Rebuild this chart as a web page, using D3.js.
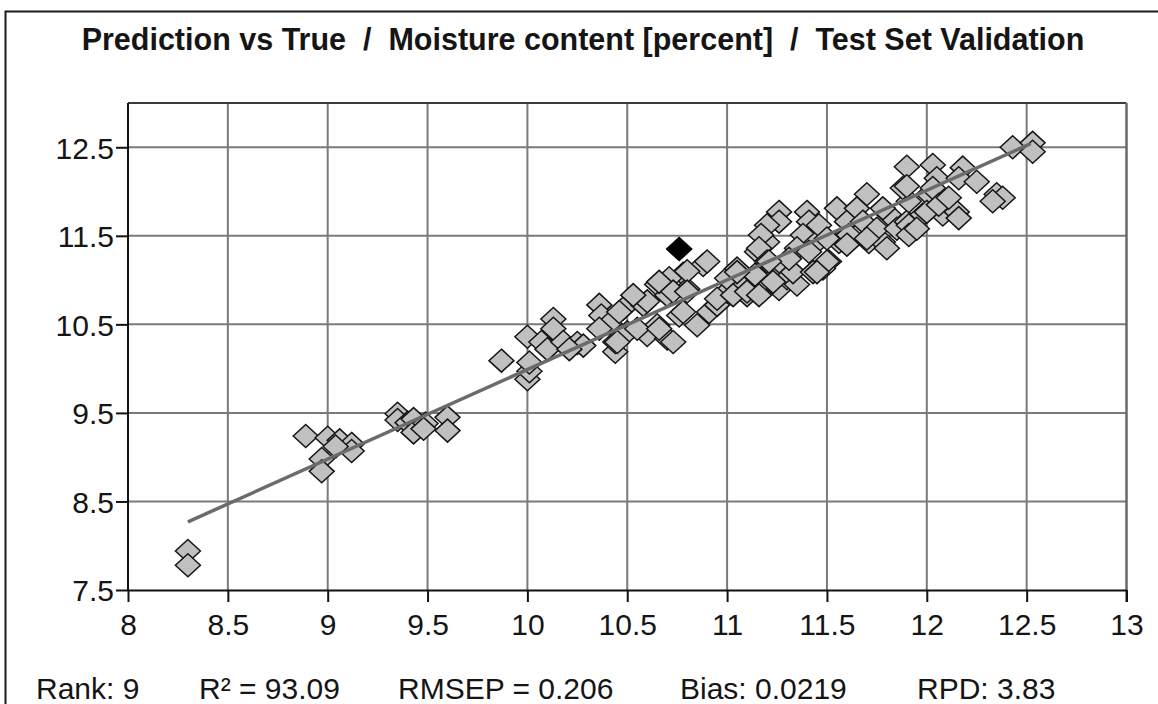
<!DOCTYPE html>
<html>
<head>
<meta charset="utf-8">
<script src="https://cdn.jsdelivr.net/npm/d3@7"></script>
<style>
  html, body { margin: 0; padding: 0; background: #fff; }
  svg { display: block; }
  text { font-family: "Liberation Sans", Arial, sans-serif; fill: #151515; }
</style>
</head>
<body>
<svg id="chart" width="1158" height="704"></svg>
<script>
// ---- chart content ----
const titleText = "Prediction vs True  /  Moisture content [percent]  /  Test Set Validation";
const xTicks = [8, 8.5, 9, 9.5, 10, 10.5, 11, 11.5, 12, 12.5, 13];
const yTicks = [7.5, 8.5, 9.5, 10.5, 11.5, 12.5];
const statLabels = ["Rank: 9", "R\u00b2 = 93.09", "RMSEP = 0.206", "Bias: 0.0219", "RPD: 3.83"];

// test-set samples: reference (true) value and predicted value
const trueValues = [
  8.30, 8.30,
  8.89, 9.00, 9.06, 9.12, 9.12, 9.04, 8.97, 8.97,
  9.35, 9.35, 9.40, 9.43, 9.43, 9.49, 9.48, 9.60, 9.60,
  9.87, 10.00, 10.00, 10.01, 10.01, 10.13, 10.13, 10.07, 10.10, 10.18, 10.25, 10.28, 10.21,
  10.36, 10.37, 10.41, 10.44, 10.44, 10.48, 10.50, 10.58, 10.60, 10.65, 10.70, 10.65,
  10.70, 10.73, 10.76, 10.78, 10.85, 10.88, 10.91, 10.95, 11.00, 11.05, 10.80, 10.71,
  10.90, 10.80, 10.66, 10.73, 10.60, 10.46, 10.36, 10.45, 10.55, 10.66, 10.78, 10.95,
  11.00, 11.05, 11.10, 11.18, 11.23, 11.15, 11.20, 11.28, 11.26, 10.80, 10.53,
  11.26, 11.26, 11.20, 11.17, 11.16, 11.20, 11.14, 11.05, 11.03, 11.10, 11.16, 11.30,
  11.35, 11.33, 11.40, 11.41, 11.38, 11.35, 11.31, 11.45, 11.51, 11.48, 11.43, 11.46,
  11.55, 11.60, 11.56, 11.61, 11.70, 11.65, 11.68, 11.71, 11.78, 11.75, 11.81, 11.85,
  11.90, 11.91, 11.98, 12.05, 11.88, 12.01, 12.08, 11.90, 11.90, 12.03, 12.05, 12.03,
  12.18, 12.16, 12.25, 12.35, 12.38, 12.33, 12.43, 12.53, 12.53, 11.78, 12.00, 12.06,
  12.15, 12.16, 12.11, 11.80, 11.91, 11.91, 11.95, 11.50, 11.60, 11.50, 11.45, 11.23,
  11.21, 11.41, 11.70
];
const predictedValues = [
  7.94, 7.78,
  9.24, 9.22, 9.19, 9.15, 9.07, 9.12, 8.98, 8.84,
  9.49, 9.42, 9.39, 9.43, 9.28, 9.38, 9.32, 9.45, 9.30,
  10.09, 10.36, 9.88, 9.97, 10.07, 10.56, 10.45, 10.30, 10.22, 10.30, 10.29, 10.26, 10.22,
  10.72, 10.60, 10.51, 10.19, 10.30, 10.68, 10.41, 10.72, 10.38, 10.95, 10.83, 10.49,
  10.34, 10.30, 10.60, 11.07, 10.49, 11.17, 10.64, 10.72, 10.87, 10.98, 10.90, 11.02,
  11.21, 11.10, 10.98, 10.87, 10.76, 10.64, 10.45, 10.30, 10.45, 10.45, 10.64, 10.79,
  11.02, 11.13, 10.83, 10.90, 11.02, 11.32, 11.43, 11.17, 10.90, 10.87, 10.83,
  11.77, 11.66, 11.62, 11.51, 11.36, 11.21, 11.06, 11.09, 10.83, 10.87, 10.83, 11.02,
  10.95, 11.09, 11.77, 11.66, 11.51, 11.36, 11.24, 11.43, 11.21, 11.13, 11.09, 11.62,
  11.81, 11.66, 11.43, 11.51, 11.97, 11.81, 11.66, 11.43, 11.43, 11.58, 11.74, 11.58,
  11.66, 11.89, 11.74, 11.89, 12.04, 11.97, 11.74, 12.28, 12.06, 12.30, 12.15, 12.04,
  12.27, 12.15, 12.11, 11.97, 11.93, 11.89, 12.50, 12.55, 12.45, 11.81, 11.77, 11.85,
  11.77, 11.70, 11.93, 11.36, 11.62, 11.51, 11.58, 11.47, 11.40, 11.21, 11.09, 10.98,
  11.21, 11.32, 11.47
];

// sample flagged by the software (drawn in black)
const flaggedTrue = [10.76];
const flaggedPredicted = [11.35];

// regression line of prediction on true value
const fitSlope = 1.012;
const fitIntercept = -0.13;
const fitRange = [8.30, 12.52];

// ---- layout ----
const plot = { left: 128, right: 1126.5, top: 103, bottom: 590 };
const footerX = [36, 199, 398, 680, 917];

const svg = d3.select("#chart");

const x = d3.scaleLinear().domain([8, 13]).range([plot.left, plot.right]);
const y = d3.scaleLinear().domain([7.5, 13]).range([plot.bottom, plot.top]);

// outer frame of the report panel
svg.append("path")
  .attr("d", "M5.5,704V11.5H1158")
  .attr("fill", "none")
  .attr("stroke", "#1a1a1a")
  .attr("stroke-width", 2);

// title
svg.append("text")
  .attr("x", 583)
  .attr("y", 49.5)
  .attr("text-anchor", "middle")
  .style("font-size", "30.5px")
  .style("font-weight", "bold")
  .style("white-space", "pre")
  .attr("xml:space", "preserve")
  .text(titleText);

// grid
const grid = svg.append("g").attr("stroke", "#7a7a7a").attr("stroke-width", 2);
grid.selectAll("line.v")
  .data(xTicks.filter(d => d > 8 && d < 13))
  .join("line")
  .attr("class", "v")
  .attr("x1", d => x(d)).attr("x2", d => x(d))
  .attr("y1", plot.top).attr("y2", plot.bottom);
grid.selectAll("line.h")
  .data(yTicks.filter(d => d > 7.5))
  .join("line")
  .attr("class", "h")
  .attr("x1", plot.left).attr("x2", plot.right)
  .attr("y1", d => y(d)).attr("y2", d => y(d));

// top and right frame of the plot area
svg.append("line")
  .attr("x1", plot.left).attr("x2", plot.right)
  .attr("y1", plot.top).attr("y2", plot.top)
  .attr("stroke", "#3a3a3a").attr("stroke-width", 2);
svg.append("line")
  .attr("x1", plot.right).attr("x2", plot.right)
  .attr("y1", plot.top).attr("y2", plot.bottom + 12)
  .attr("stroke", "#6a6a6a").attr("stroke-width", 2.5);

// axes
const fmt = d => String(d);
const xAxis = svg.append("g")
  .attr("transform", `translate(0,${plot.bottom})`)
  .call(d3.axisBottom(x).tickValues(xTicks).tickFormat(fmt).tickSize(12).tickSizeOuter(0).tickPadding(12));
const yAxis = svg.append("g")
  .attr("transform", `translate(${plot.left},0)`)
  .call(d3.axisLeft(y).tickValues(yTicks).tickFormat(fmt).tickSize(12).tickSizeOuter(0).tickPadding(2));

[xAxis, yAxis].forEach(g => {
  g.select(".domain").attr("stroke", "#111").attr("stroke-width", 2);
  g.selectAll(".tick line").attr("stroke", "#111").attr("stroke-width", 2);
  g.selectAll(".tick text")
    .attr("fill", "#151515")
    .style("font-size", "30px")
    .style("font-family", "'Liberation Sans', Arial, sans-serif");
});
yAxis.select(".domain").attr("d", `M0,${plot.bottom}V${plot.top}`);
yAxis.selectAll(".tick text").attr("dy", "0.36em");

// sample markers (diamonds)
const diamond = (hw, hh) => `M0,${-hh}L${hw},0L0,${hh}L${-hw},0Z`;
const samples = trueValues.map((t, i) => ({ t, p: predictedValues[i] }));
svg.append("g")
  .selectAll("path")
  .data(samples)
  .join("path")
  .attr("d", diamond(12.5, 11.5))
  .attr("transform", d => `translate(${x(d.t)},${y(d.p)})`)
  .attr("fill", "#c0c0c0")
  .attr("stroke", "#151515")
  .attr("stroke-width", 1.5);

svg.append("g")
  .selectAll("path")
  .data(flaggedTrue.map((t, i) => ({ t, p: flaggedPredicted[i] })))
  .join("path")
  .attr("d", diamond(12.5, 11.5))
  .attr("transform", d => `translate(${x(d.t)},${y(d.p)})`)
  .attr("fill", "#000")
  .attr("stroke", "#000")
  .attr("stroke-width", 1.5);

// regression line
svg.append("path")
  .datum(fitRange)
  .attr("d", d3.line().x(d => x(d)).y(d => y(fitIntercept + fitSlope * d)))
  .attr("fill", "none")
  .attr("stroke", "#6b6b6b")
  .attr("stroke-width", 3.5);

// statistics footer
svg.append("g")
  .selectAll("text")
  .data(statLabels)
  .join("text")
  .attr("x", (d, i) => footerX[i])
  .attr("y", 699)
  .style("font-size", "30px")
  .text(d => d);
</script>
</body>
</html>
